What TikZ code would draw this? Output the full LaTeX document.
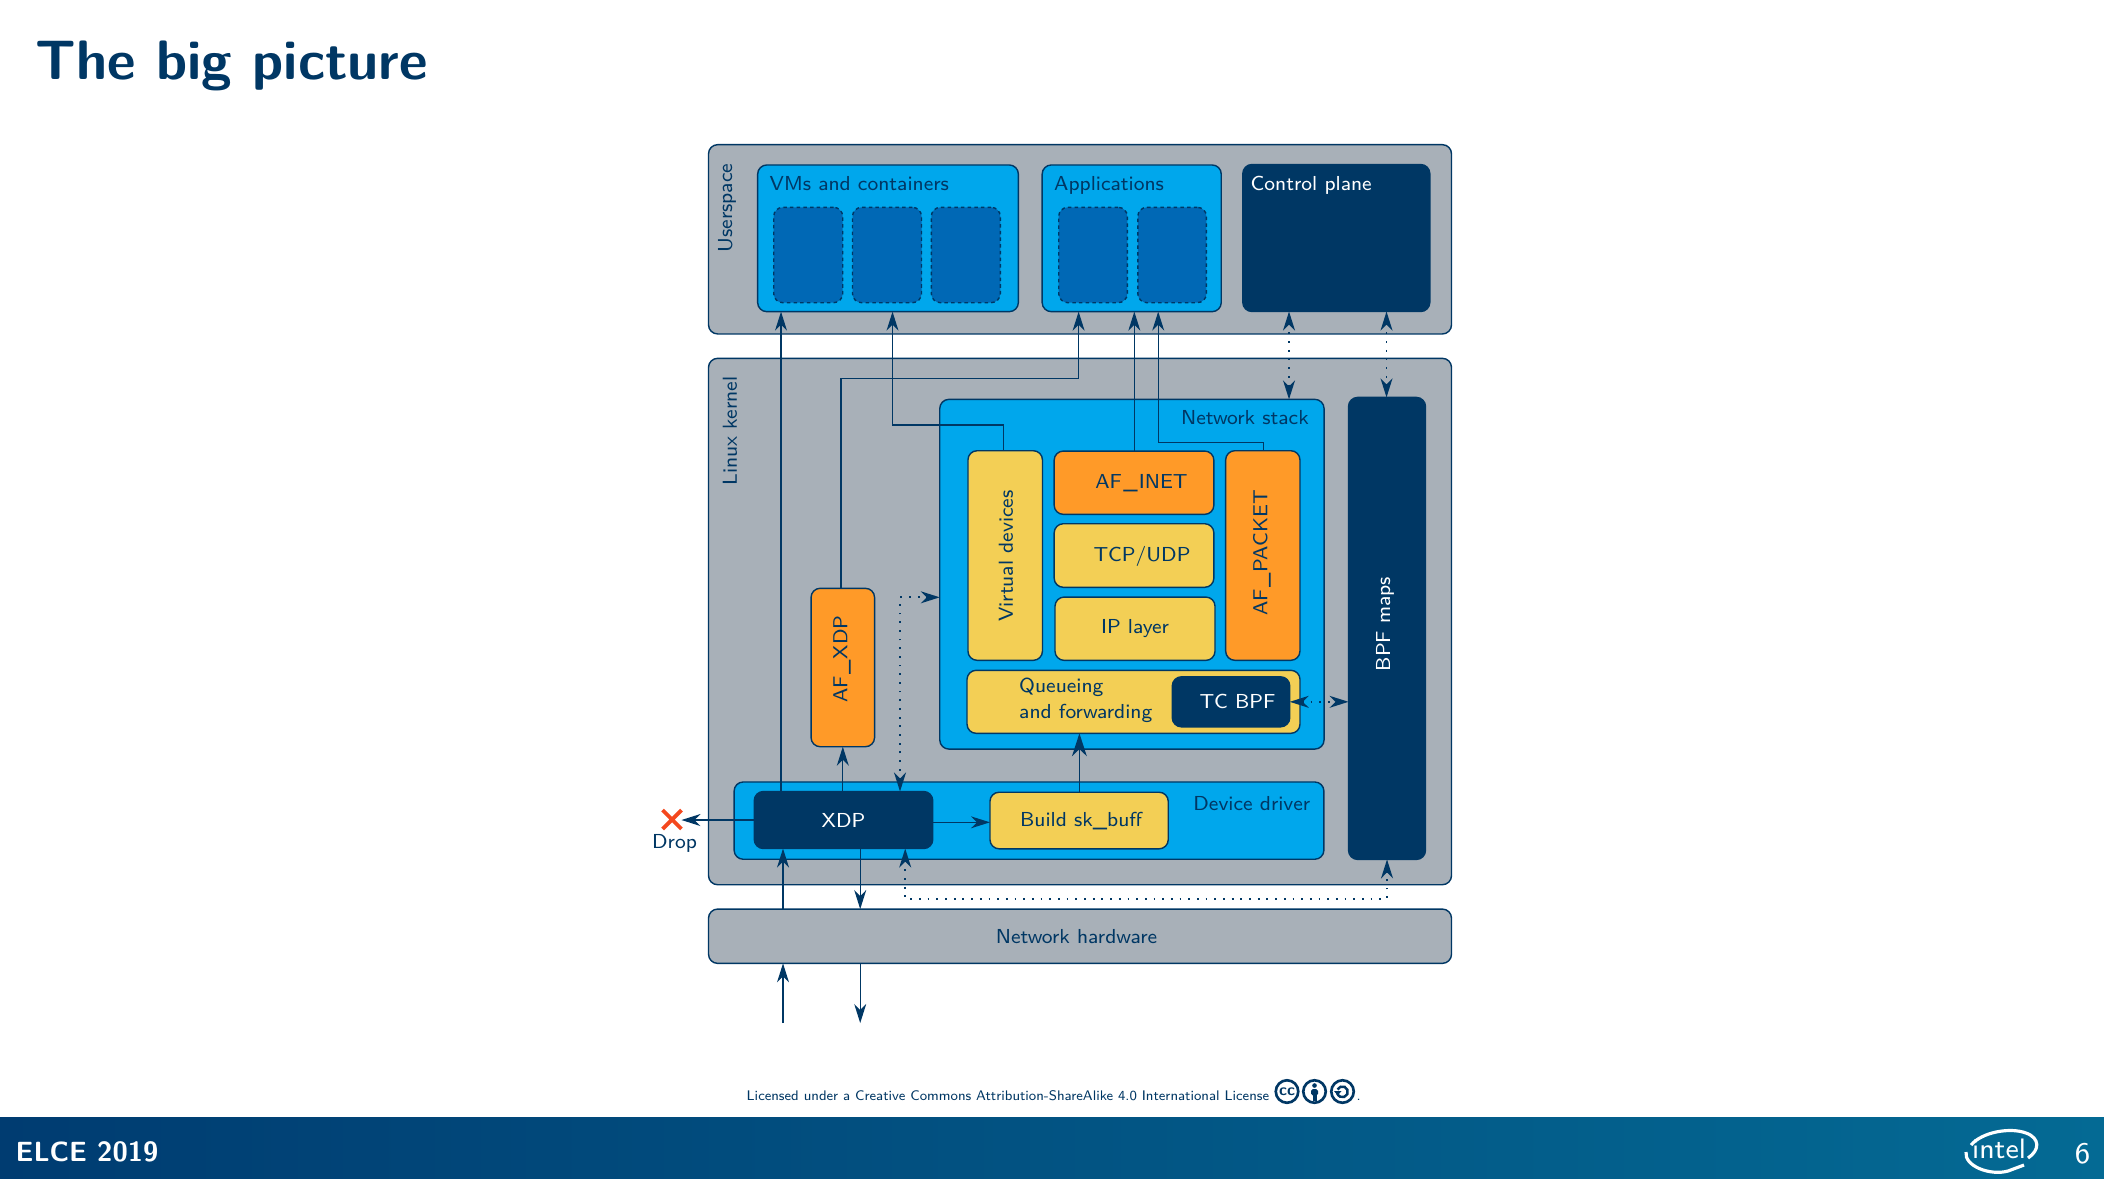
\documentclass[tikz,border=0pt]{standalone}
\usepackage{tikz}
\usetikzlibrary{arrows.meta, shapes.misc}

\definecolor{ink}{HTML}{003764}
\definecolor{slate}{HTML}{A8B0B8}
\definecolor{sky}{HTML}{00A7EC}
\definecolor{deep}{HTML}{0068B5}
\definecolor{amber}{HTML}{FF9A28}
\definecolor{sand}{HTML}{F3CF55}
\definecolor{dropred}{HTML}{F4481E}
\definecolor{barleft}{HTML}{003C71}
\definecolor{barright}{HTML}{046A94}

\newcommand{\labfont}{\sffamily\fontsize{5.76}{7.5}\selectfont}

\tikzset{
    sz/.style 2 args={minimum width=#1*0.01cm, minimum height=#2*0.01cm},
    box/.style={draw=ink, line width=.4pt, rounded corners=2.6pt, inner sep=0pt, outer sep=0pt,
        font=\labfont, text=ink},
    panel/.style={box, fill=slate},
    blue/.style={box, fill=sky},
    slot/.style={box, fill=deep, dash pattern=on 1pt off .9pt},
    dark/.style={box, fill=ink, text=white},
    warm/.style={box, fill=amber},
    soft/.style={box, fill=sand},
    lab/.style={font=\labfont, text=ink, inner sep=0pt},
    flow/.style={->, ink, line width=.36pt},
    dots/.style={<->, ink, line width=.5pt, dash pattern=on .5pt off 1.97pt},
    ccicon/.style={circle, draw=ink, line width=.75pt, inner sep=0pt, minimum size=.225cm,
        font=\sffamily\bfseries\fontsize{4.6}{4.6}\selectfont, text=ink},
}

\begin{document}
\begin{tikzpicture}[x=0.01cm, y=-0.01cm, >={Stealth[length=5.4pt, width=3.4pt, inset=1.7pt]}]
    \useasboundingbox (0,0) rectangle (2104,1178);
    \fill[white] (0,0) rectangle (2104,1178);

    \node[font=\sffamily\bfseries\fontsize{15.8}{19}\selectfont, text=ink, inner sep=0pt, anchor=base west] (title) at (35,79) {The big picture};

    % userspace
    \node[panel, sz={743}{189.3}]   (user)     at (1080,239.3)  {};
    \node[blue, sz={260.7}{146.7}]  (vms)      at (888,238.3)   {};
    \node[slot, sz={69}{95.4}]      (vma)      at (808.2,255)   {};
    \node[slot, sz={69}{95.4}]      (vmb)      at (887,255)     {};
    \node[slot, sz={69}{95.4}]      (vmc)      at (965.8,255)   {};
    \node[blue, sz={179.1}{146.7}]  (apps)     at (1131.7,238.3) {};
    \node[slot, sz={68.6}{95.4}]    (appa)     at (1093,255)    {};
    \node[slot, sz={68.6}{95.4}]    (appb)     at (1172.1,255)  {};
    \node[dark, sz={187}{147}]      (control)  at (1336.3,238) {};

    % kernel
    \node[panel, sz={743}{526.4}]   (kernel)   at (1080,621.5)  {};
    \node[blue, sz={384.3}{349.7}]  (stack)    at (1131.9,574.2) {};
    \node[dark, sz={77}{462}]       (bpf)      at (1387,628.4) {};
    \node[soft, sz={74.5}{209.6}]   (virt)     at (1005.2,555.5) {};
    \node[warm, sz={159.7}{63.3}]   (afinet)   at (1134,482.7)  {};
    \node[soft, sz={159.7}{63.6}]   (tcp)      at (1134,555.5)  {};
    \node[soft, sz={160}{63.3}]     (ip)       at (1135,628.7)  {IP layer};
    \node[warm, sz={74.3}{209.6}]   (afpacket) at (1262.8,555.5) {};
    \node[soft, sz={333}{63}]       (queue)    at (1133.5,701.8) {};
    \node[dark, sz={117.5}{50}]     (tcbpf)    at (1231,701.8) {};
    \node[warm, sz={63.5}{158.4}]   (afxdp)    at (842.8,667.5) {};
    \node[blue, sz={589.8}{77.3}]   (driver)   at (1029,820.6)  {};
    \node[dark, sz={178.5}{57}]     (xdp)      at (843.5,820)   {XDP};
    \node[soft, sz={178.3}{56.6}]   (build)    at (1079.1,820.5)  {};

    \node[panel, sz={743}{54.3}]    (hardware) at (1080,936.2)  {};

    % labels
    \node[lab, rotate=90] (userlab)   at (727,208)    {Userspace};
    \node[lab, rotate=90] (kernellab) at (730,431)    {Linux kernel};
    \node[lab, anchor=west] (vmslab)  at (769,183.3) {VMs and containers};
    \node[lab, anchor=west] (appslab) at (1053.5,185) {Applications};
    \node[lab, anchor=west, text=white] (ctllab) at (1250,185.5) {Control plane};
    \node[lab, anchor=east] (stacklab) at (1309.5,418) {Network stack};
    \node[lab, rotate=90] (virtlab)   at (1006,556)   {Virtual devices};
    \node[lab, rotate=90] (packetlab) at (1262,553)   {AF\hspace{.35pt}\_\hspace{.35pt}PACKET};
    \node[lab, rotate=90] (xdplab)    at (842,659)    {AF\hspace{.35pt}\_\hspace{.35pt}XDP};
    \node[lab, rotate=90, text=white] (bpflab) at (1385,624) {BPF maps};
    \node[lab] (inetlab)  at (1141.5,483) {AF\hspace{.35pt}\_\hspace{.35pt}INET};
    \node[lab] (tcplab)   at (1142,556.5)     {TCP/UDP};
    \node[lab, anchor=west, align=left] (queuelab) at (1018.5,700.5) {Queueing\\and forwarding};
    \node[lab, text=white] (tclab) at (1237.5,701.7) {TC BPF};
    \node[lab, anchor=east] (drvlab) at (1311,803.3) {Device driver};
    \node[lab] (buildlab) at (1081,821.5) {Build sk\_buff};
    \node[lab] (hwlab) at (1076.5,937) {Network hardware};

    % drop
    \node[cross out, draw=dropred, line width=1.1pt, minimum size=.15cm, inner sep=0pt] (drop) at (672,819.5) {};
    \node[lab] (droplab) at (674.5,843) {Drop};

    \coordinate (rxin)  at (783,1023);
    \coordinate (txout) at (860.2,1023);

    % packet paths
    \path[flow]
    (xdp.north -| 781,0) edge (vms.south -| 781,0)
    (xdp.north -| 842.8,0) edge (afxdp.south -| 842.8,0)
    (afinet.north -| 1134.3,0) edge (apps.south -| 1134.3,0)
    (xdp.east |- 0,822.3) edge (build.west |- 0,822.3)
    (xdp.west |- 0,820) edge (drop.east |- 0,820)
    (build.north -| 1079.4,0) edge [-{Stealth[length=6.5pt, width=4.2pt, inset=2pt]}] (queue.south -| 1079.4,0)
    (hardware.north -| 783,0) edge (xdp.south -| 783,0)
    (xdp.south -| 860.2,0) edge (hardware.north -| 860.2,0)
    (rxin) edge (hardware.south -| rxin)
    (hardware.south -| txout) edge (txout);

    \draw[flow] (afxdp.north -| 841,0) -- (841,378.3) -- (1078.6,378.3) -- (apps.south -| 1078.6,0);
    \draw[flow] (virt.north -| 1003.4,0) -- (1003.4,425) -- (892.5,425) -- (vms.south -| 892.5,0);
    \draw[flow] (afpacket.north -| 1263.6,0) -- (1263.6,442.7) -- (1158.2,442.7) -- (apps.south -| 1158.2,0);

    % map and control access
    \path[dots]
    (control.south -| 1289,0) edge (stack.north -| 1289,0)
    (control.south -| 1386.5,0) edge (bpf.north -| 1386.5,0)
    (tcbpf.east) edge (bpf.west |- tcbpf.east);
    \draw[dots] (xdp.north -| 900,0) -- (900,597.3) -- (stack.west |- 0,597.3);
    \draw[dots] (xdp.south -| 905.2,0) -- (905.2,899) -- (1387,899) -- (bpf.south -| 1387,0);

    % licence line
    \node[lab, anchor=base west, font=\sffamily\fontsize{3.95}{5}\selectfont] (licence) at (746,1100) {Licensed under a Creative Commons Attribution-ShareAlike 4.0 International License};
    \node[ccicon] (cc) at (1287,1091.5) {cc};
    \node[ccicon] (by) at (1314.5,1091.5) {};
    \node[ccicon] (sa) at (1342.5,1091.5) {};
    \node[lab, anchor=base west, font=\sffamily\fontsize{3.95}{5}\selectfont] (stop) at (1356,1100) {.};
    \fill[ink] (1314.5,1085.5) circle (2.3);
    \fill[ink, rounded corners=.5pt] (1311,1089) rectangle (1318,1095.5);
    \fill[ink] (1312.5,1095) rectangle (1316.5,1100.5);
    \draw[ink, line width=.7pt] (1337.5,1089.5) arc[start angle=-155, end angle=165, radius=5.4];
    \fill[ink] (1334,1091) -- (1341.5,1091) -- (1337.6,1095.5) -- cycle;

    % bottom bar
    \shade[left color=barleft, right color=barright] (0,1117.5) rectangle (2104,1178);
    \node[font=\sffamily\bfseries\fontsize{7.9}{10}\selectfont, text=white, inner sep=0pt, anchor=base west] (event) at (15,1161) {ELCE 2019};
    \node[font=\sffamily\fontsize{8.5}{10}\selectfont, text=white, inner sep=0pt, anchor=base] (page) at (2082.5,1163) {6};
    \node[font=\sffamily\fontsize{8}{9}\selectfont, text=white, inner sep=0pt, anchor=base] (logo) at (1999,1158.3) {intel};
    \draw[white, line width=.9pt] (1966,1152) .. controls (1964,1166) and (1990,1176) .. (2008,1171) -- (2024,1165);
    \draw[white, line width=.9pt] (1971,1145) .. controls (1982,1132) and (2010,1127) .. (2026,1133) .. controls (2040,1138) and (2040,1150) .. (2028,1158);
\end{tikzpicture}
\end{document}
